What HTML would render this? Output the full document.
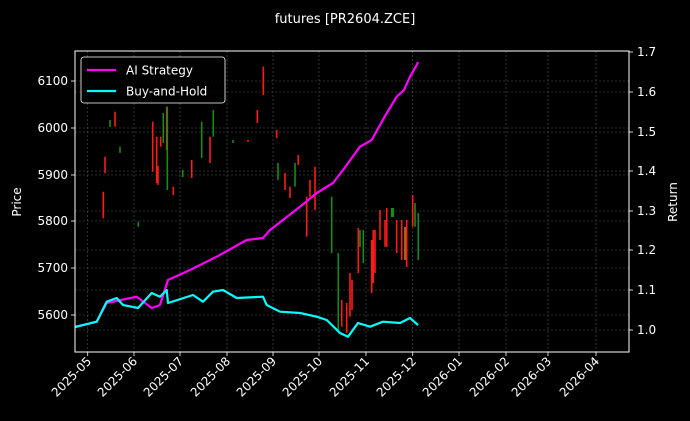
<!DOCTYPE html>
<html><head><meta charset="utf-8"><style>
html,body{margin:0;padding:0;background:#000;}
svg{display:block;font-family:"DejaVu Sans","Liberation Sans",sans-serif;}
</style></head><body>
<svg width="690" height="421" viewBox="0 0 690 421">
<rect width="690" height="421" fill="#000"/>
<text x="345" y="23" fill="#fff" font-size="13" text-anchor="middle">futures [PR2604.ZCE]</text>
<g stroke="#555" stroke-width="0.6" stroke-dasharray="2,2">
<line x1="87.7" y1="51" x2="87.7" y2="352"/><line x1="134" y1="51" x2="134" y2="352"/><line x1="180" y1="51" x2="180" y2="352"/><line x1="227" y1="51" x2="227" y2="352"/><line x1="273" y1="51" x2="273" y2="352"/><line x1="319" y1="51" x2="319" y2="352"/><line x1="366" y1="51" x2="366" y2="352"/><line x1="412.7" y1="51" x2="412.7" y2="352"/><line x1="459" y1="51" x2="459" y2="352"/><line x1="506" y1="51" x2="506" y2="352"/><line x1="548" y1="51" x2="548" y2="352"/><line x1="596" y1="51" x2="596" y2="352"/>
<line x1="75" y1="81" x2="629" y2="81"/><line x1="75" y1="128" x2="629" y2="128"/><line x1="75" y1="175" x2="629" y2="175"/><line x1="75" y1="221" x2="629" y2="221"/><line x1="75" y1="268" x2="629" y2="268"/><line x1="75" y1="315" x2="629" y2="315"/>
<line x1="75" y1="92" x2="629" y2="92"/><line x1="75" y1="132" x2="629" y2="132"/><line x1="75" y1="171" x2="629" y2="171"/><line x1="75" y1="211" x2="629" y2="211"/><line x1="75" y1="250" x2="629" y2="250"/><line x1="75" y1="290" x2="629" y2="290"/><line x1="75" y1="330" x2="629" y2="330"/>
</g>
<g stroke-width="1.6">
<g stroke="#ff1a1a">
<line x1="103.3" y1="191.7" x2="103.3" y2="218.3"/><line x1="105" y1="156.7" x2="105" y2="173"/><line x1="115" y1="111.7" x2="115" y2="126.7"/><line x1="152.7" y1="121.7" x2="152.7" y2="171.7"/><line x1="156.7" y1="136.7" x2="156.7" y2="183"/><line x1="158" y1="166" x2="158" y2="185"/><line x1="160.7" y1="136.7" x2="160.7" y2="146.7"/><line x1="166.7" y1="106.7" x2="166.7" y2="150"/><line x1="173.3" y1="186.7" x2="173.3" y2="195"/><line x1="191.7" y1="160" x2="191.7" y2="178"/><line x1="210" y1="136.7" x2="210" y2="163"/><line x1="248" y1="140" x2="248" y2="142"/><line x1="257.3" y1="110" x2="257.3" y2="123"/><line x1="263.3" y1="66.7" x2="263.3" y2="95"/><line x1="276.7" y1="130" x2="276.7" y2="138"/><line x1="285" y1="173" x2="285" y2="190"/><line x1="290" y1="186.7" x2="290" y2="198"/><line x1="298.3" y1="155" x2="298.3" y2="165"/><line x1="306.7" y1="196.7" x2="306.7" y2="236.7"/><line x1="310" y1="180" x2="310" y2="197"/><line x1="315" y1="166.7" x2="315" y2="210"/><line x1="341.7" y1="300" x2="341.7" y2="326.7"/><line x1="346.7" y1="303" x2="346.7" y2="333"/><line x1="350" y1="273" x2="350" y2="316.7"/><line x1="352" y1="280" x2="352" y2="310"/><line x1="358.3" y1="228" x2="358.3" y2="273"/><line x1="371.7" y1="240" x2="371.7" y2="293"/><line x1="373.3" y1="230" x2="373.3" y2="283"/><line x1="375" y1="230" x2="375" y2="273"/><line x1="380" y1="210" x2="380" y2="240"/><line x1="385" y1="220" x2="385" y2="246.7"/><line x1="386.7" y1="208" x2="386.7" y2="247"/><line x1="396.7" y1="220" x2="396.7" y2="253"/><line x1="401.7" y1="220" x2="401.7" y2="260"/><line x1="406.7" y1="220" x2="406.7" y2="267"/><line x1="412.7" y1="195" x2="412.7" y2="226.7"/>
</g>
<line x1="405" y1="227" x2="405" y2="260" stroke="#c87a1a"/>
<g stroke="#1a8a1a">
<line x1="120" y1="146.7" x2="120" y2="153"/><line x1="110" y1="120" x2="110" y2="127"/><line x1="138.3" y1="221.7" x2="138.3" y2="226.7"/><line x1="163.3" y1="113" x2="163.3" y2="143"/><line x1="167.3" y1="106.7" x2="167.3" y2="190"/><line x1="182.7" y1="170" x2="182.7" y2="177"/><line x1="201.7" y1="121.7" x2="201.7" y2="158"/><line x1="213.3" y1="110" x2="213.3" y2="136.7"/><line x1="233" y1="140" x2="233" y2="143"/><line x1="278" y1="163" x2="278" y2="180"/><line x1="295" y1="163" x2="295" y2="186.7"/><line x1="331.7" y1="196.7" x2="331.7" y2="253"/><line x1="338.3" y1="253" x2="338.3" y2="330"/><line x1="360" y1="230" x2="360" y2="247"/><line x1="363.3" y1="230" x2="363.3" y2="263"/><line x1="391.7" y1="208" x2="391.7" y2="217"/><line x1="393.3" y1="208" x2="393.3" y2="217"/><line x1="415" y1="203" x2="415" y2="226.7"/><line x1="418.3" y1="213" x2="418.3" y2="260"/>
</g></g>
<polyline fill="none" stroke="#ff00ff" stroke-width="2.2" stroke-linejoin="round" points="75,327 96.7,321.7 106.7,303 136.7,296.7 151.7,308 160,305 168,280 190,270 216.7,256.7 246.7,240 263,238 270,230 300,206.7 316.7,193 333,183 343,170 360,146.7 371.7,140 385,116 396.7,96.7 404,90 410,76.7 416.7,65 418,62"/>
<polyline fill="none" stroke="#00ffff" stroke-width="2.2" stroke-linejoin="round" points="75,327 96.7,321.7 106.7,301.7 116.7,298 123,305 138,308 151.7,293 160,296.7 166.7,290 168,303 193,295 203,301.7 213,291.7 223,290 236.7,298 263,296.7 266.7,305 280,311.7 300,313 316.7,316.7 326.7,320 340,333 348,336.7 358,323 370,326.7 383,321.7 400,323 410,318 418,325"/>
<rect x="75" y="51" width="554" height="301" fill="none" stroke="#fff" stroke-width="1"/>
<rect x="81" y="57" width="144" height="46" rx="3" fill="#000" fill-opacity="0.8" stroke="#fff" stroke-width="0.8"/>
<line x1="87" y1="70" x2="116" y2="70" stroke="#ff00ff" stroke-width="2.2"/>
<line x1="87" y1="91" x2="116" y2="91" stroke="#00ffff" stroke-width="2.2"/>
<g fill="#fff" font-size="12"><text x="126" y="74.5">AI Strategy</text><text x="126" y="95.5">Buy-and-Hold</text></g>
<g stroke="#fff" stroke-width="0.8">
<line x1="71" y1="81" x2="75" y2="81"/><line x1="71" y1="128" x2="75" y2="128"/><line x1="71" y1="175" x2="75" y2="175"/><line x1="71" y1="221" x2="75" y2="221"/><line x1="71" y1="268" x2="75" y2="268"/><line x1="71" y1="315" x2="75" y2="315"/>
<line x1="629" y1="52" x2="633" y2="52"/><line x1="629" y1="92" x2="633" y2="92"/><line x1="629" y1="132" x2="633" y2="132"/><line x1="629" y1="171" x2="633" y2="171"/><line x1="629" y1="211" x2="633" y2="211"/><line x1="629" y1="250" x2="633" y2="250"/><line x1="629" y1="290" x2="633" y2="290"/><line x1="629" y1="330" x2="633" y2="330"/>
<line x1="87.7" y1="352" x2="87.7" y2="356"/><line x1="134" y1="352" x2="134" y2="356"/><line x1="180" y1="352" x2="180" y2="356"/><line x1="227" y1="352" x2="227" y2="356"/><line x1="273" y1="352" x2="273" y2="356"/><line x1="319" y1="352" x2="319" y2="356"/><line x1="366" y1="352" x2="366" y2="356"/><line x1="412.7" y1="352" x2="412.7" y2="356"/><line x1="459" y1="352" x2="459" y2="356"/><line x1="506" y1="352" x2="506" y2="356"/><line x1="548" y1="352" x2="548" y2="356"/><line x1="596" y1="352" x2="596" y2="356"/>
</g>
<g fill="#fff" font-size="12" text-anchor="end">
<text x="68" y="85">6100</text><text x="68" y="132">6000</text><text x="68" y="179">5900</text><text x="68" y="225">5800</text><text x="68" y="272">5700</text><text x="68" y="319">5600</text>
</g>
<g fill="#fff" font-size="12">
<text x="637" y="56">1.7</text><text x="637" y="96">1.6</text><text x="637" y="136">1.5</text><text x="637" y="175">1.4</text><text x="637" y="215">1.3</text><text x="637" y="254">1.2</text><text x="637" y="294">1.1</text><text x="637" y="334">1.0</text>
</g>
<text transform="translate(21,202) rotate(-90)" fill="#fff" font-size="12" text-anchor="middle">Price</text>
<text transform="translate(677,202) rotate(-90)" fill="#fff" font-size="12" text-anchor="middle">Return</text>
<g fill="#fff" font-size="12" text-anchor="end">
<text transform="translate(92,362) rotate(-45)">2025-05</text><text transform="translate(138,362) rotate(-45)">2025-06</text><text transform="translate(184,362) rotate(-45)">2025-07</text><text transform="translate(231,362) rotate(-45)">2025-08</text><text transform="translate(277,362) rotate(-45)">2025-09</text><text transform="translate(323,362) rotate(-45)">2025-10</text><text transform="translate(370,362) rotate(-45)">2025-11</text><text transform="translate(417,362) rotate(-45)">2025-12</text><text transform="translate(463,362) rotate(-45)">2026-01</text><text transform="translate(510,362) rotate(-45)">2026-02</text><text transform="translate(552,362) rotate(-45)">2026-03</text><text transform="translate(600,362) rotate(-45)">2026-04</text>
</g>
</svg>
</body></html>
